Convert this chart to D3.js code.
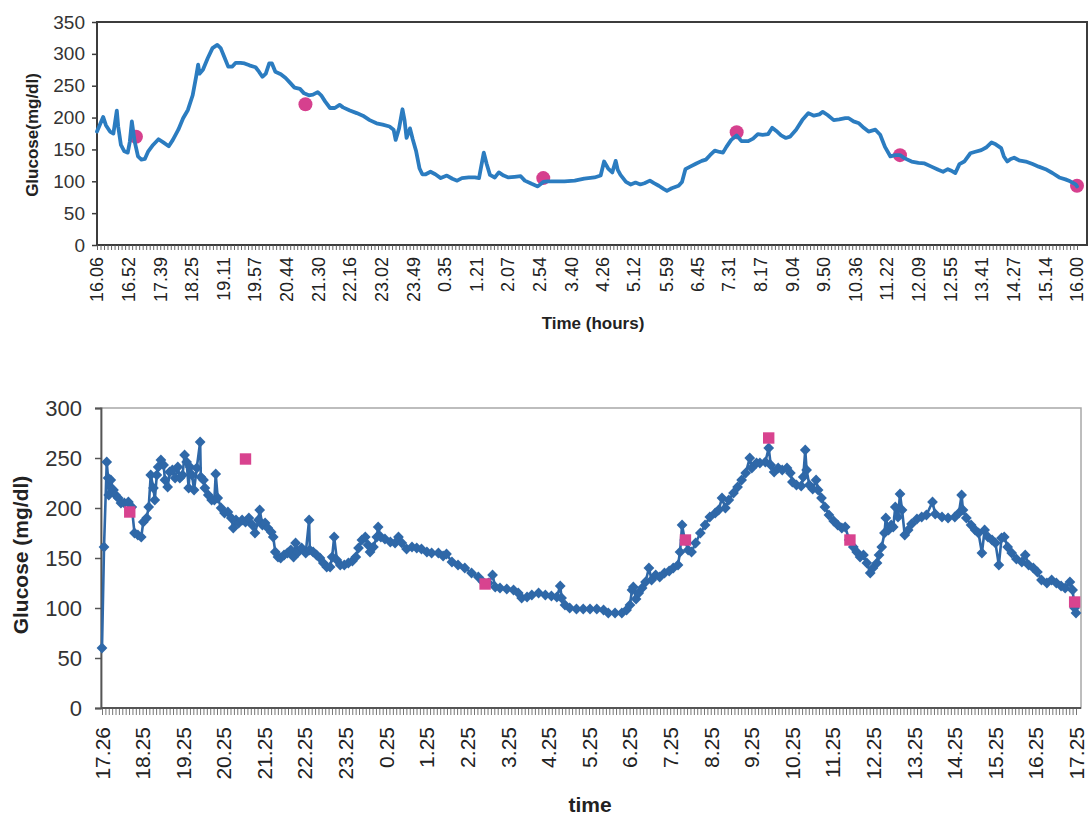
<!DOCTYPE html>
<html>
<head>
<meta charset="utf-8">
<script src="https://cdn.jsdelivr.net/npm/d3@7/dist/d3.min.js"></script>
<style>
  html, body { margin: 0; padding: 0; background: #fff; }
  svg { display: block; font-family: Arial, "Liberation Sans", sans-serif; }
</style>
</head>
<body>
<svg id="chart" width="1088" height="816"></svg>
<script>
// ---------- Upper panel: continuous sensor trace (minutes after 16:06) ----------
const topTickLabels = ["16.06","16.52","17.39","18.25","19.11","19.57","20.44","21.30","22.16","23.02",
  "23.49","0.35","1.21","2.07","2.54","3.40","4.26","5.12","5.59","6.45","7.31","8.17","9.04","9.50",
  "10.36","11.22","12.09","12.55","13.41","14.27","15.14","16.00"];
const topMinutes = [0,9,13,19,24,29,31,35,40,45,48,51,55,60,65,70,75,82,90,97,105,111,119,126,133,140,
  145,148,150,155,162,169,176,181,186,192,198,203,210,216,223,232,237,242,247,252,256,261,269,276,283,
  289,297,303,310,316,323,328,334,341,348,355,360,370,380,389,399,409,418,428,434,437,442,447,450,453,
  458,462,467,472,476,481,488,495,503,512,520,527,534,544,553,559,566,570,575,582,588,595,602,611,620,
  626,636,645,653,660,670,684,699,713,728,737,742,748,754,759,762,766,774,781,788,795,801,809,815,822,
  829,834,841,851,856,861,868,877,885,891,897,904,911,916,921,928,936,943,953,960,967,974,982,988,994,
  1001,1008,1014,1023,1032,1041,1049,1057,1062,1069,1078,1086,1095,1100,1107,1115,1122,1129,1139,1146,
  1153,1161,1168,1175,1182,1192,1202,1211,1221,1231,1238,1245,1251,1256,1262,1269,1278,1284,1294,1301,
  1309,1315,1323,1327,1332,1337,1342,1349,1359,1369,1378,1388,1398,1408,1417,1424,1432,1434];
const topGlucose = [178,201,188,178,175,211,186,157,147,145,162,194,163,139,134,135,147,157,166,161,155,
  165,181,199,212,235,264,283,269,275,293,309,314,309,296,280,280,286,286,285,282,279,272,264,269,285,
  285,272,268,262,254,247,245,238,235,236,240,235,225,215,215,220,216,211,207,203,196,191,189,186,181,
  165,183,213,196,168,183,166,147,120,111,111,115,111,105,109,104,101,105,106,106,105,145,128,110,106,
  114,109,106,107,108,101,96,92,99,100,100,100,101,104,106,109,131,120,114,132,118,110,99,95,98,95,97,
  101,97,93,88,85,89,93,99,119,123,128,132,134,141,148,146,145,154,165,172,163,163,167,174,173,174,184,
  179,172,168,170,181,196,207,203,205,209,204,196,197,199,199,194,191,184,178,181,173,154,139,141,141,
  136,131,129,128,123,118,115,119,116,113,127,131,144,146,149,153,161,158,152,139,131,135,137,133,131,
  127,123,119,113,106,103,100,95,92];
// reference (meter) readings
const topRefMinutes = [57,305,653,936,1175,1434];
const topRefGlucose = [170,221,105,177,141,93];
const topYTicks = [0,50,100,150,200,250,300,350];

// ---------- Lower panel: sensor readings (minutes after 17:26) ----------
const bottomTickLabels = ["17.26","18.25","19.25","20.25","21.25","22.25","23.25","0.25","1.25","2.25",
  "3.25","4.25","5.25","6.25","7.25","8.25","9.25","10.25","11.25","12.25","13.25","14.25","15.25",
  "16.25","17.25"];
const bottomMinutes = [0,3,7,9,10,13,17,20,24,28,33,39,44,48,53,58,61,66,69,72,76,78,81,83,87,91,93,97,
  100,104,108,112,115,119,122,125,128,130,133,136,140,145,146,150,152,157,162,166,168,171,176,181,186,
  191,194,198,202,207,212,217,222,226,231,233,237,241,245,250,253,256,260,264,269,274,279,283,286,290,
  295,301,306,307,312,317,322,327,332,337,340,343,347,352,358,364,370,375,379,384,389,393,396,401,406,
  408,412,418,426,433,438,443,450,458,465,472,480,487,497,504,509,517,526,536,546,556,563,571,577,581,
  588,598,608,615,620,628,635,645,655,664,672,677,679,684,691,701,711,721,731,741,748,758,768,775,780,
  783,785,789,793,798,803,808,812,818,824,831,838,844,851,854,857,861,866,871,877,884,891,898,906,911,
  916,921,926,933,939,945,951,957,960,967,972,980,985,988,993,999,1005,1012,1017,1020,1026,1033,1036,
  1039,1041,1045,1050,1055,1058,1063,1068,1074,1081,1087,1093,1098,1104,1110,1115,1120,1125,1130,1135,
  1139,1145,1148,1152,1156,1158,1162,1166,1169,1172,1176,1179,1182,1186,1191,1196,1204,1211,1218,1227,
  1231,1241,1250,1260,1266,1270,1272,1277,1284,1290,1295,1300,1304,1309,1315,1320,1325,1329,1333,1338,
  1344,1351,1359,1364,1369,1376,1382,1388,1396,1403,1410,1417,1423,1430,1434,1437,1439];
const bottomGlucose = [60,161,246,230,213,228,218,213,210,205,205,206,201,175,173,171,186,190,201,233,220,
  208,233,241,248,243,228,221,236,238,230,241,230,233,253,246,220,241,233,218,240,266,231,228,220,213,
  208,208,234,210,200,195,196,190,180,188,185,188,186,190,183,175,188,198,183,185,180,176,171,156,151,
  150,153,155,158,151,165,156,160,155,188,158,156,153,150,145,141,141,151,171,148,143,143,145,147,151,
  160,168,171,163,156,161,171,181,171,169,166,165,171,165,159,161,160,159,156,155,155,152,154,146,143,
  140,135,131,126,125,133,121,120,119,118,115,110,111,113,115,113,112,111,122,110,103,100,99,99,99,99,
  98,95,95,95,98,103,118,121,109,115,120,126,140,128,133,131,135,137,140,143,156,183,168,158,156,165,
  175,183,191,195,198,210,200,208,215,221,228,235,250,240,245,245,246,260,243,236,240,238,240,235,226,
  223,222,231,258,238,223,219,228,218,210,201,193,187,183,180,181,168,161,156,151,153,145,135,140,145,
  153,161,175,190,178,183,181,201,191,214,198,173,178,184,189,191,193,206,194,191,190,191,195,213,198,
  190,183,178,175,155,178,171,168,165,143,170,171,161,155,149,146,153,143,140,136,128,125,128,125,122,
  120,126,118,100,95];
// reference (meter) readings
const bottomRefMinutes = [41,212,566,862,985,1105,1437];
const bottomRefGlucose = [196,249,124,168,270,168,106];
const bottomYTicks = [0,50,100,150,200,250,300];

// number of sampled categories along each time axis (one tick each)
const topCategoryCount = 279;
const bottomCategoryCount = 288;

const svg = d3.select("#chart");

// clock label "H.MM" -> minutes after a start clock time (a full day wraps to 1440)
function minutesAfter(label, startLabel) {
  const toMin = s => { const [h, m] = s.split(".").map(Number); return h * 60 + m; };
  if (label === startLabel) return 0;
  return (toMin(label) - toMin(startLabel) + 1440) % 1440 || 1440;
}

// ======================= Upper panel =======================
(function drawTop() {
  const left = 97, right = 1087, top = 22, bottom = 245;
  const x = d3.scaleLinear().domain([0, 1434]).range([left, 1077]);
  const y = d3.scaleLinear().domain([0, 350]).range([bottom, top]);

  svg.append("rect").attr("x", left).attr("y", top).attr("width", right - left).attr("height", bottom - top)
    .attr("fill", "#fff").attr("stroke", "#3c3c3c").attr("stroke-width", 2);

  // y axis
  const ya = svg.append("g").attr("transform", `translate(${left},0)`)
    .call(d3.axisLeft(y).tickValues(topYTicks).tickSize(5).tickPadding(7));
  ya.select(".domain").remove();
  ya.selectAll("line").attr("stroke", "#3c3c3c").attr("stroke-width", 1.5);
  ya.selectAll("text").attr("fill", "#333").style("font-size", "19px");

  // dense category ticks
  const step = 1434 / topCategoryCount;
  const xt = svg.append("g").attr("transform", `translate(0,${bottom})`)
    .call(d3.axisBottom(x).tickValues(d3.range(topCategoryCount + 1).map(i => i * step)).tickSize(5).tickFormat(""));
  xt.select(".domain").remove();
  xt.selectAll("line").attr("stroke", "#555").attr("stroke-width", 0.9);

  // rotated clock labels
  const labelPos = topTickLabels.map(l => minutesAfter(l, topTickLabels[0]));
  const xl = svg.append("g").attr("transform", `translate(0,${bottom})`)
    .call(d3.axisBottom(x).tickValues(labelPos).tickSize(0).tickFormat((d, i) => topTickLabels[i]));
  xl.select(".domain").remove();
  xl.selectAll("text").attr("transform", "rotate(-90)").attr("x", -12).attr("y", 0).attr("dy", "0.32em")
    .style("text-anchor", "end").style("font-size", "18px").attr("fill", "#222");

  // reference readings
  svg.append("g").selectAll("circle").data(topRefMinutes).join("circle")
    .attr("cx", d => x(d)).attr("cy", (d, i) => y(topRefGlucose[i])).attr("r", 7)
    .attr("fill", "#d6408e");

  // sensor trace
  const line = d3.line().x((d, i) => x(topMinutes[i])).y(d => y(d));
  svg.append("path").datum(topGlucose).attr("d", line).attr("fill", "none")
    .attr("stroke", "#2b7cc0").attr("stroke-width", 3.8).attr("stroke-linejoin", "round").attr("stroke-linecap", "round");

  svg.append("text").attr("transform", `translate(38,135) rotate(-90)`).attr("text-anchor", "middle")
    .style("font-size", "17px").style("font-weight", "bold").attr("fill", "#222").text("Glucose(mg/dl)");
  svg.append("text").attr("x", 593).attr("y", 329).attr("text-anchor", "middle")
    .style("font-size", "17px").style("font-weight", "bold").attr("fill", "#222").text("Time (hours)");
})();

// ======================= Lower panel =======================
(function drawBottom() {
  const left = 101, right = 1081, top = 408, bottom = 708;
  const x = d3.scaleLinear().domain([0, 1439]).range([102, 1076]);
  const y = d3.scaleLinear().domain([0, 300]).range([bottom, top]);

  svg.append("rect").attr("x", left).attr("y", top).attr("width", right - left).attr("height", bottom - top)
    .attr("fill", "#fff").attr("stroke", "#a8a8a8").attr("stroke-width", 1.5);

  const ya = svg.append("g").attr("transform", `translate(${left},0)`)
    .call(d3.axisLeft(y).tickValues(bottomYTicks).tickSize(6).tickPadding(13));
  ya.select(".domain").attr("stroke", "#555").attr("stroke-width", 1.8);
  ya.selectAll("line").attr("stroke", "#555").attr("stroke-width", 1.5);
  ya.selectAll("text").attr("fill", "#333").style("font-size", "22px");

  const step = 1439 / bottomCategoryCount;
  const xt = svg.append("g").attr("transform", `translate(0,${bottom})`)
    .call(d3.axisBottom(x).tickValues(d3.range(bottomCategoryCount + 1).map(i => i * step)).tickSize(7).tickFormat(""));
  xt.select(".domain").remove();
  xt.selectAll("line").attr("stroke", "#666").attr("stroke-width", 0.9);
  svg.append("line").attr("x1", left).attr("x2", right).attr("y1", bottom).attr("y2", bottom)
    .attr("stroke", "#555").attr("stroke-width", 1.8);

  const labelPos = bottomTickLabels.map(l => minutesAfter(l, bottomTickLabels[0]));
  const xl = svg.append("g").attr("transform", `translate(0,${bottom})`)
    .call(d3.axisBottom(x).tickValues(labelPos).tickSize(0).tickFormat((d, i) => bottomTickLabels[i]));
  xl.select(".domain").remove();
  xl.selectAll("text").attr("transform", "rotate(-90)").attr("x", -19).attr("y", 0).attr("dy", "0.36em")
    .style("text-anchor", "end").style("font-size", "21px").attr("fill", "#222");

  // sensor readings: connecting line plus diamond markers
  const line = d3.line().x((d, i) => x(bottomMinutes[i])).y(d => y(d));
  svg.append("path").datum(bottomGlucose).attr("d", line).attr("fill", "none")
    .attr("stroke", "#2f68a8").attr("stroke-width", 2.6);

  const diamond = { draw(ctx, size) { const r = Math.sqrt(size / 2); ctx.moveTo(0, -r); ctx.lineTo(r, 0); ctx.lineTo(0, r); ctx.lineTo(-r, 0); ctx.closePath(); } };
  svg.append("g").selectAll("path").data(bottomGlucose).join("path")
    .attr("transform", (d, i) => `translate(${x(bottomMinutes[i])},${y(d)})`)
    .attr("d", d3.symbol().type(diamond).size(58)).attr("fill", "#2f68a8");

  // reference readings
  svg.append("g").selectAll("path").data(bottomRefGlucose).join("path")
    .attr("transform", (d, i) => `translate(${x(bottomRefMinutes[i])},${y(d)})`)
    .attr("d", d3.symbol().type(d3.symbolSquare).size(130)).attr("fill", "#d8438f");

  svg.append("text").attr("transform", `translate(28,555) rotate(-90)`).attr("text-anchor", "middle")
    .style("font-size", "21px").style("font-weight", "bold").attr("fill", "#222").text("Glucose (mg/dl)");
  svg.append("text").attr("x", 590).attr("y", 812).attr("text-anchor", "middle")
    .style("font-size", "21px").style("font-weight", "bold").attr("fill", "#222").text("time");
})();
</script>
</body>
</html>
